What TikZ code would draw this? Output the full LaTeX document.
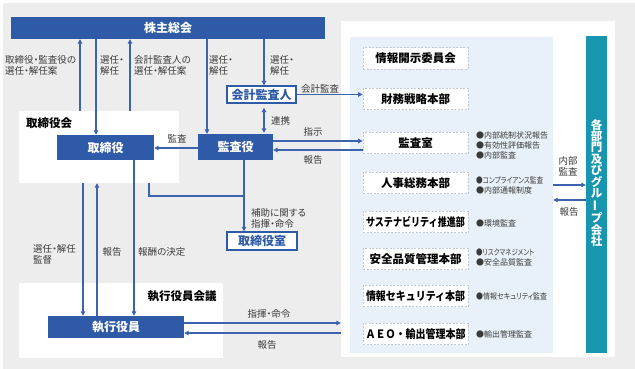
\documentclass[tikz,border=0pt]{standalone}
\usepackage{fontspec}
\usepackage{graphicx}
\setmainfont{Noto Sans CJK JP}
\newfontfamily\pf{Noto Sans CJK JP}[RawFeature=+palt]
\usetikzlibrary{arrows.meta}
\definecolor{cblue}{HTML}{2F5AA8}
\definecolor{lcol}{HTML}{3B63AE}
\definecolor{bgc}{HTML}{EEEDED}
\definecolor{lblue}{HTML}{E8F1F9}
\definecolor{tealc}{HTML}{1896AF}
\definecolor{dcol}{HTML}{BFCAD6}
\definecolor{labc}{HTML}{3A3A3A}
\newcommand\mylabfont{\pf\fontsize{9.5}{11}\selectfont}
\newcommand\mytitlefont{\bfseries\fontsize{12}{12}\selectfont}
\newcommand\mydeptfont{\bfseries\fontsize{11.5}{12}\selectfont}
\newcommand\mybulfont{\pf\fontsize{8}{10}\selectfont}
\tikzset{
  lbl/.style={font=\mylabfont, text=labc, inner sep=0, align=left},
  arr/.style={draw=lcol, line width=1.1pt, -{Triangle[length=4.5pt,width=4.5pt]}},
  dblarr/.style={draw=lcol, line width=1.1pt, {Triangle[length=4.5pt,width=4.5pt]}-{Triangle[length=4.5pt,width=4.5pt]}},
  plainline/.style={draw=lcol, line width=1.1pt},
  bbox/.style={fill=cblue, text=white, font=\mytitlefont, inner sep=0},
  obox/.style={fill=white, draw=cblue, line width=1.4pt, text=cblue, font=\mytitlefont, inner sep=0},
  wpanel/.style={fill=white, inner sep=0},
  dbox/.style={fill=white, draw=dcol, dash pattern=on 2pt off 1.5pt, line width=0.8pt, font=\mydeptfont, inner sep=0, minimum width=105, minimum height=21.5},
  bul/.style={font=\mybulfont, text=labc, inner sep=0, align=left, anchor=west},
  ptitle/.style={font=\bfseries\fontsize{11.5}{12}\selectfont, inner sep=0}
}
\begin{document}
\begin{tikzpicture}[x=1pt,y=-1pt]
\useasboundingbox (0,0) rectangle (635,369);
\fill[bgc] (3,3) rectangle (635,369);

% panels
\node[wpanel, minimum width=160, minimum height=72] (torikai) at (99,147) {};
\node[ptitle, anchor=west] (torikaiT) at (26,123) {取締役会};
\node[wpanel, minimum width=204, minimum height=75] (shikkai) at (121,320.5) {};
\node[ptitle] (shikkaiT) at (182,296) {執行役員会議};
\node[wpanel, minimum width=274, minimum height=336] (wbox) at (478,189) {};
\node[fill=lblue, inner sep=0, minimum width=203, minimum height=316] (lbox) at (451.5,195) {};
\node[fill=tealc, inner sep=0, minimum width=21, minimum height=317] (grp) at (596.5,194.5) {};
\node[text=white, font=\bfseries\fontsize{11.5}{11.4}\selectfont, align=center, inner sep=0] (grpT) at (596.5,183)
  {各\\部\\門\\及\\び\\グ\\ル\\\rotatebox[origin=c]{90}{ー}\\プ\\会\\社};

% main boxes
\node[bbox, minimum width=314, minimum height=22] (kabu) at (168,28) {株主総会};
\node[bbox, minimum width=97, minimum height=25] (tori) at (105.5,147.5) {取締役};
\node[bbox, minimum width=75, minimum height=26] (kansa) at (235.5,147) {監査役};
\node[obox, minimum width=69, minimum height=17] (kaikei) at (261.5,94.5) {会計監査人};
\node[obox, minimum width=70, minimum height=18] (torishitsu) at (262,241) {取締役室};
\node[bbox, minimum width=136, minimum height=22] (shikko) at (116,327) {執行役員};

% departments
\node[dbox] (d1) at (415.5,58.5) {情報開示委員会};
\node[dbox] (d2) at (415.5,99) {財務戦略本部};
\node[dbox] (d3) at (415.5,143) {監査室};
\node[dbox] (d4) at (415.5,183) {人事総務本部};
\node[dbox] (d5) at (415.5,222) {\resizebox{99pt}{\height}{サステナビリティ推進部}};
\node[dbox] (d6) at (415.5,259) {安全品質管理本部};
\node[dbox] (d7) at (415.5,296) {\resizebox{99pt}{\height}{情報セキュリティ本部}};
\node[dbox] (d8) at (415.5,334) {\resizebox{100pt}{\height}{ＡＥＯ・輸出管理本部}};

% bullets
\node[bul] (b3) at (476,145) {●内部統制状況報告\\●有効性評価報告\\●内部監査};
\node[bul] (b4) at (476,185) {\resizebox{67pt}{\height}{●コンプライアンス監査}\\●内部通報制度};
\node[bul] (b5) at (476,223) {●環境監査};
\node[bul] (b6) at (476,258) {\resizebox{58pt}{\height}{●リスクマネジメント}\\●安全品質監査};
\node[bul] (b7) at (476,296) {\resizebox{71pt}{\height}{●情報セキュリティ監査}};
\node[bul] (b8) at (476,334) {●輸出管理監査};

% helper coordinates
\coordinate (xa) at (80,0);
\coordinate (xb) at (96,0);
\coordinate (xc) at (130,0);
\coordinate (xd) at (207,0);
\coordinate (xe) at (264,0);
\coordinate (xf) at (83,0);
\coordinate (xg) at (97,0);
\coordinate (xh) at (134,0);
\coordinate (xi) at (149,0);
\coordinate (jn) at (244,196);
\coordinate (y148) at (0,148);
\coordinate (y141) at (0,141);
\coordinate (y150) at (0,150);
\coordinate (y323) at (0,323);
\coordinate (y333) at (0,333);
\coordinate (y185) at (0,185);
\coordinate (y200) at (0,200);

% connectors
\draw[arr] (torikai.north -| xa) -- (kabu.south -| xa);
\draw[arr] (kabu.south -| xb) -- (tori.north -| xb);
\draw[arr] (torikai.north -| xc) -- (kabu.south -| xc);
\draw[arr] (kabu.south -| xd) -- (kansa.north -| xd);
\draw[arr] (kabu.south -| xe) -- (kaikei.north -| xe);
\draw[dblarr, shorten <=4pt, shorten >=1pt] (kaikei.south -| xe) -- (kansa.north -| xe);
\draw[arr] (kansa.west |- y148) -- (tori.east |- y148);
\draw[arr] (kaikei.east) -- (kaikei.east -| d2.west);
\draw[arr] (kansa.east |- y141) -- (d3.west |- y141);
\draw[arr] (d3.west |- y150) -- (kansa.east |- y150);
\draw[arr] (tori.south -| xh) -- (shikko.north -| xh);
\draw[arr] (torikai.south -| xf) -- (shikko.north -| xf);
\draw[arr] (shikko.north -| xg) -- (torikai.south -| xg);
\draw[plainline] (torikai.south -| xi) |- (jn);
\draw[arr] (kansa.south -| jn) -- (torishitsu.north -| jn);
\draw[arr] (shikko.east |- y323) -- (wbox.west |- y323);
\draw[arr] (wbox.west |- y333) -- (shikko.east |- y333);
\draw[arr] (lbox.east |- y185) -- (grp.west |- y185);
\draw[arr] (grp.west |- y200) -- (lbox.east |- y200);

% labels
\node[lbl, anchor=west] (l1) at (5,65.5) {取締役・監査役の\\選任・解任案};
\node[lbl, anchor=west] (l2) at (100,65.5) {選任・\\解任};
\node[lbl, anchor=west] (l3) at (134,65.5) {会計監査人の\\選任・解任案};
\node[lbl, anchor=west] (l4) at (209,65.5) {選任・\\解任};
\node[lbl, anchor=west] (l5) at (270,65.5) {選任・\\解任};
\node[lbl, anchor=west] (l6) at (271,121) {連携};
\node[lbl] (l7) at (177,139) {監査};
\node[lbl] (l8) at (320,89) {会計監査};
\node[lbl] (l9) at (313,132) {指示};
\node[lbl] (l10) at (313,160) {報告};
\node[lbl, anchor=west] (l11) at (33,254) {選任・解任\\監督};
\node[lbl] (l12) at (112,252) {報告};
\node[lbl, anchor=west] (l13) at (138,252) {報酬の決定};
\node[lbl, anchor=west] (l14) at (251,218) {補助に関する\\指揮・命令};
\node[lbl] (l15) at (269,314) {指揮・命令};
\node[lbl] (l16) at (267,345) {報告};
\node[lbl, align=center] (l17) at (568,166.5) {内部\\監査};
\node[lbl] (l18) at (569,212) {報告};
\end{tikzpicture}
\end{document}
